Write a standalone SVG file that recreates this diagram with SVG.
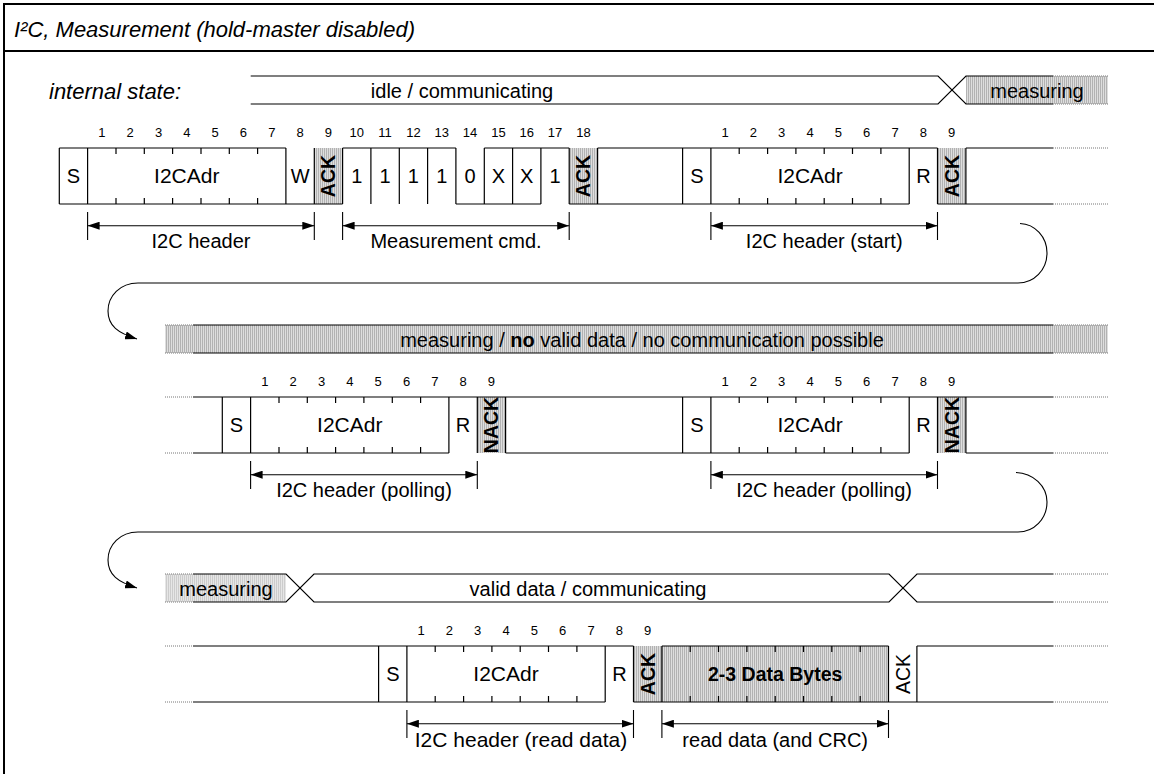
<svg xmlns="http://www.w3.org/2000/svg" width="1154" height="774" viewBox="0 0 1154 774">
<defs>
<pattern id="hatch" width="2" height="4" patternUnits="userSpaceOnUse">
<rect width="2" height="4" fill="#dedede"/>
<rect width="1" height="4" fill="#b2b2b2"/>
</pattern>
<pattern id="hatch2" width="2" height="4" patternUnits="userSpaceOnUse">
<rect width="2" height="4" fill="#e6e6e6"/>
<rect width="1" height="4" fill="#cccccc"/>
</pattern>
<marker id="ah" viewBox="0 0 12 8" refX="12" refY="4" markerWidth="12" markerHeight="8" markerUnits="userSpaceOnUse" orient="auto-start-reverse">
<path d="M0,0 L12,4 L0,8 z" fill="#000"/>
</marker>
</defs>
<style>
.t{font-family:"Liberation Sans",Arial,Helvetica,sans-serif;font-size:20px;fill:#000}
.n{font-size:13px}
.b{font-weight:bold}
.i{font-style:italic}
.ln{stroke:#000;stroke-width:1.2;fill:none}
.dot{stroke:#777;stroke-width:1;stroke-dasharray:1 1;fill:none}
.g{fill:url(#hatch)}
.g2{fill:url(#hatch2)}
.dim{stroke:#000;stroke-width:1.1;fill:none}
</style>
<rect width="1154" height="774" fill="#fff"/>

<g id="frame">
<rect x="4" y="4" width="1170" height="790" fill="none" stroke="#000" stroke-width="2"/>
<line x1="4" y1="51" x2="1154" y2="51" stroke="#000" stroke-width="2"/>
<text class="t i" x="14" y="37" style="font-size:22px">I²C, Measurement (hold-master disabled)</text>
<text class="t i" x="49" y="99" style="font-size:22px">internal state:</text>
</g>

<!-- Row 1 state -->
<g id="state1">
<rect class="g" x="966" y="76" width="142" height="28"/>
<path class="ln" d="M250.7,76 H938 L966,104 H1053 M250.7,104 H938 L966,76 H1053"/>
<path class="dot" d="M1053,76 H1108 M1053,104 H1108"/>
<text class="t" x="462" y="98" text-anchor="middle">idle / communicating</text>
<text class="t" x="1037" y="98" text-anchor="middle">measuring</text>
</g>

<!-- Row 1 bits -->
<g id="bits1">
<rect class="g" x="314.3" y="148" width="28.3" height="56"/>
<rect class="g" x="569.2" y="148" width="28.4" height="56"/>
<rect class="g" x="937.5" y="148" width="28.4" height="56"/>
<path class="ln" d="M59.3,148 V204 M87.6,148 V204 M285.9,148 V204 M314.3,148 V204 M342.6,148 V204 M370.9,148 V204 M399.3,148 V204 M427.6,148 V204 M455.9,148 V204 M484.3,148 V204 M512.6,148 V204 M540.9,148 V204 M569.2,148 V204 M597.6,148 V204 M682.6,148 V204 M710.9,148 V204 M909.2,148 V204 M937.5,148 V204 M965.9,148 V204
M59.3,148 H285.9 M342.6,148 H455.9 M484.3,148 H569.2 M597.6,148 H937.5 M965.9,148 H1053
M59.3,204 H342.6 M455.9,204 H540.9 M569.2,204 H909.2 M937.5,204 H1053
M116,148 v6 M144.3,148 v6 M172.6,148 v6 M201,148 v6 M229.3,148 v6 M257.6,148 v6
M116,204 v-6 M144.3,204 v-6 M172.6,204 v-6 M201,204 v-6 M229.3,204 v-6 M257.6,204 v-6
M739.2,148 v6 M767.6,148 v6 M795.9,148 v6 M824.2,148 v6 M852.5,148 v6 M880.9,148 v6
M739.2,204 v-6 M767.6,204 v-6 M795.9,204 v-6 M824.2,204 v-6 M852.5,204 v-6 M880.9,204 v-6"/>
<path class="dot" d="M1053,148 H1108 M1053,204 H1108"/>
<g class="t n" text-anchor="middle">
<text x="101.8" y="137">1</text><text x="130.1" y="137">2</text><text x="158.5" y="137">3</text><text x="186.8" y="137">4</text><text x="215.1" y="137">5</text><text x="243.4" y="137">6</text><text x="271.8" y="137">7</text><text x="300.1" y="137">8</text><text x="328.4" y="137">9</text>
<text x="356.8" y="137">10</text><text x="385.1" y="137">11</text><text x="413.4" y="137">12</text><text x="441.8" y="137">13</text><text x="470.1" y="137">14</text><text x="498.4" y="137">15</text><text x="526.7" y="137">16</text><text x="555.1" y="137">17</text><text x="583.4" y="137">18</text>
<text x="725.1" y="137">1</text><text x="753.4" y="137">2</text><text x="781.7" y="137">3</text><text x="810.1" y="137">4</text><text x="838.4" y="137">5</text><text x="866.7" y="137">6</text><text x="895" y="137">7</text><text x="923.4" y="137">8</text><text x="951.7" y="137">9</text>
</g>
<g class="t" text-anchor="middle">
<text x="73.5" y="183">S</text><text x="186.8" y="183" style="font-size:21px">I2CAdr</text><text x="300.1" y="183">W</text>
<text x="356.8" y="183">1</text><text x="385.1" y="183">1</text><text x="413.4" y="183">1</text><text x="441.8" y="183">1</text><text x="470.1" y="183">0</text><text x="498.4" y="183">X</text><text x="526.7" y="183">X</text><text x="555.1" y="183">1</text>
<text x="696.8" y="183">S</text><text x="810.1" y="183" style="font-size:21px">I2CAdr</text><text x="923.4" y="183">R</text>
</g>
<g class="t b" text-anchor="middle" style="font-size:19.5px">
<text transform="translate(328.4,176) rotate(-90)" y="7">ACK</text>
<text transform="translate(583.4,176) rotate(-90)" y="7">ACK</text>
<text transform="translate(951.7,176) rotate(-90)" y="7">ACK</text>
</g>
</g>

<!-- Row 2 state -->
<g id="state2">
<rect class="g" x="165" y="325" width="943" height="28"/>
<path class="ln" d="M193,325 H1053 M193,353 H1053"/>
<path class="dot" d="M165,325 H193 M165,353 H193 M1053,325 H1108 M1053,353 H1108"/>
<text class="t" x="642" y="347" text-anchor="middle">measuring / <tspan font-weight="bold">no</tspan> valid data / no communication possible</text>
</g>

<!-- Row 2 bits -->
<g id="bits2">
<rect class="g" x="477.3" y="397" width="28.3" height="56"/>
<rect class="g" x="937.5" y="397" width="28.4" height="56"/>
<path class="ln" d="M222.3,397 V453 M250.6,397 V453 M448.9,397 V453 M477.3,397 V453 M505.6,397 V453 M682.6,397 V453 M710.9,397 V453 M909.2,397 V453 M937.5,397 V453 M965.9,397 V453
M193,397 H1053
M193,453 H448.9 M505.6,453 H909.2 M965.9,453 H1053
M279,397 v6 M307.3,397 v6 M335.6,397 v6 M363.9,397 v6 M392.3,397 v6 M420.6,397 v6
M279,453 v-6 M307.3,453 v-6 M335.6,453 v-6 M363.9,453 v-6 M392.3,453 v-6 M420.6,453 v-6
M739.2,397 v6 M767.6,397 v6 M795.9,397 v6 M824.2,397 v6 M852.5,397 v6 M880.9,397 v6
M739.2,453 v-6 M767.6,453 v-6 M795.9,453 v-6 M824.2,453 v-6 M852.5,453 v-6 M880.9,453 v-6"/>
<path class="dot" d="M165,397 H193 M165,453 H193 M1053,397 H1108 M1053,453 H1108"/>
<g class="t n" text-anchor="middle">
<text x="264.8" y="386">1</text><text x="293.1" y="386">2</text><text x="321.5" y="386">3</text><text x="349.8" y="386">4</text><text x="378.1" y="386">5</text><text x="406.5" y="386">6</text><text x="434.8" y="386">7</text><text x="463.1" y="386">8</text><text x="491.4" y="386">9</text>
<text x="725.1" y="386">1</text><text x="753.4" y="386">2</text><text x="781.7" y="386">3</text><text x="810.1" y="386">4</text><text x="838.4" y="386">5</text><text x="866.7" y="386">6</text><text x="895" y="386">7</text><text x="923.4" y="386">8</text><text x="951.7" y="386">9</text>
</g>
<g class="t" text-anchor="middle">
<text x="236.5" y="432">S</text><text x="349.8" y="432" style="font-size:21px">I2CAdr</text><text x="463.1" y="432">R</text>
<text x="696.8" y="432">S</text><text x="810.1" y="432" style="font-size:21px">I2CAdr</text><text x="923.4" y="432">R</text>
</g>
<g class="t b" text-anchor="middle" style="font-size:19.5px">
<text transform="translate(491.4,425) rotate(-90)" y="7">NACK</text>
<text transform="translate(951.7,425) rotate(-90)" y="7">NACK</text>
</g>
</g>

<!-- Row 3 state -->
<g id="state3">
<rect class="g2" x="165" y="574" width="121" height="28"/>
<path class="ln" d="M193,574 H286 L314,602 H889 L917,574 H1053 M193,602 H286 L314,574 H889 L917,602 H1053"/>
<path class="dot" d="M165,574 H193 M165,602 H193 M1053,574 H1108 M1053,602 H1108"/>
<text class="t" x="226" y="596" text-anchor="middle">measuring</text>
<text class="t" x="588" y="596" text-anchor="middle">valid data / communicating</text>
</g>

<!-- Row 3 bits -->
<g id="bits3">
<rect class="g" x="633.5" y="646" width="28.4" height="56"/>
<rect class="g" x="661.9" y="646" width="226.6" height="56"/>
<path class="ln" d="M378.6,646 V702 M406.9,646 V702 M605.2,646 V702 M633.5,646 V702 M661.9,646 V702 M888.5,646 V702 M916.9,646 V702
M193,646 H633.5 M661.9,646 H888.5 M916.9,646 H1053
M193,702 H605.2 M633.5,702 H1053
M435.2,646 v6 M463.6,646 v6 M491.9,646 v6 M520.2,646 v6 M548.5,646 v6 M576.9,646 v6
M435.2,702 v-6 M463.6,702 v-6 M491.9,702 v-6 M520.2,702 v-6 M548.5,702 v-6 M576.9,702 v-6
M690.2,646 v6 M718.5,646 v6 M746.9,646 v6 M775.2,646 v6 M803.5,646 v6 M831.8,646 v6 M860.2,646 v6
M690.2,702 v-6 M718.5,702 v-6 M746.9,702 v-6 M775.2,702 v-6 M803.5,702 v-6 M831.8,702 v-6 M860.2,702 v-6"/>
<path class="dot" d="M165,646 H193 M165,702 H193 M1053,646 H1108 M1053,702 H1108"/>
<g class="t n" text-anchor="middle">
<text x="421.1" y="635">1</text><text x="449.4" y="635">2</text><text x="477.7" y="635">3</text><text x="506" y="635">4</text><text x="534.4" y="635">5</text><text x="562.7" y="635">6</text><text x="591" y="635">7</text><text x="619.4" y="635">8</text><text x="647.7" y="635">9</text>
</g>
<g class="t" text-anchor="middle">
<text x="392.8" y="681">S</text><text x="506" y="681" style="font-size:21px">I2CAdr</text><text x="619.4" y="681">R</text>
<text x="775.2" y="681" class="b" style="font-size:19.5px">2-3 Data Bytes</text>
</g>
<text class="t b" text-anchor="middle" style="font-size:19.5px" transform="translate(647.7,674) rotate(-90)" y="7">ACK</text>
<text class="t" text-anchor="middle" style="font-size:19.5px" transform="translate(902.7,674) rotate(-90)" y="7">ACK</text>
</g>

<!-- Connectors -->
<g id="connectors">
<path class="dim" d="M87.6,212 V240 M314.3,212 V240 M342.6,212 V240 M569.2,212 V240 M710.9,212 V240 M937.5,212 V240"/>
<line class="dim" x1="87.6" y1="225.7" x2="314.3" y2="225.7" marker-start="url(#ah)" marker-end="url(#ah)"/>
<line class="dim" x1="342.6" y1="225.7" x2="569.2" y2="225.7" marker-start="url(#ah)" marker-end="url(#ah)"/>
<line class="dim" x1="710.9" y1="225.7" x2="937.5" y2="225.7" marker-start="url(#ah)" marker-end="url(#ah)"/>
<path class="dim" d="M250.6,461 V489 M477.3,461 V489 M710.9,461 V489 M937.5,461 V489"/>
<line class="dim" x1="250.6" y1="474.7" x2="477.3" y2="474.7" marker-start="url(#ah)" marker-end="url(#ah)"/>
<line class="dim" x1="710.9" y1="474.7" x2="937.5" y2="474.7" marker-start="url(#ah)" marker-end="url(#ah)"/>
<path class="dim" d="M406.9,710 V738 M633.5,710 V738 M661.9,710 V738 M888.5,710 V738"/>
<line class="dim" x1="406.9" y1="723.7" x2="633.5" y2="723.7" marker-start="url(#ah)" marker-end="url(#ah)"/>
<line class="dim" x1="661.9" y1="723.7" x2="888.5" y2="723.7" marker-start="url(#ah)" marker-end="url(#ah)"/>
<path class="dim" d="M1020,223.5 C1035,224 1047,237 1047,253 C1047,270 1034,283 1018,283 L138,283 C120,283 108,296 108,311 C108,326 118,333 137,339" marker-end="url(#ah)"/>
<path class="dim" d="M1016,472.5 C1033,473 1047,486 1047,502 C1047,519 1034,532 1018,532 L138,532 C120,532 108,545 108,560 C108,575 118,582 137,588" marker-end="url(#ah)"/>
</g>

<g id="labels" class="t" text-anchor="middle">
<text x="201" y="248">I2C header</text>
<text x="456" y="248">Measurement cmd.</text>
<text x="824.2" y="248">I2C header (start)</text>
<text x="364" y="497">I2C header (polling)</text>
<text x="824.2" y="497">I2C header (polling)</text>
<text x="521" y="747" style="font-size:21px">I2C header (read data)</text>
<text x="775.2" y="747">read data (and CRC)</text>
</g>
</svg>
